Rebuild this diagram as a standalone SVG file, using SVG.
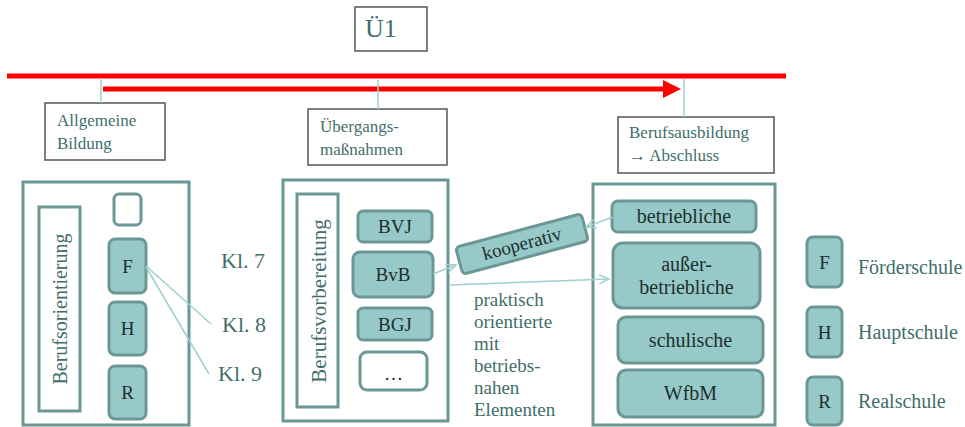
<svg xmlns="http://www.w3.org/2000/svg" width="965" height="427" viewBox="0 0 965 427" font-family="'Liberation Serif', 'DejaVu Serif', serif">
<defs>
<style>
text{font-family:'Liberation Serif','DejaVu Serif',serif;}
.lab{font-size:17px;fill:#3f6e6b;}
.prak{font-size:19px;fill:#3f6e6b;}
.leg{font-size:20px;fill:#3f6e6b;}
.kl{font-size:22px;fill:#3f6e6b;}
.box{fill:#ffffff;stroke:#555555;stroke-width:1.5;}
.panel{fill:#ffffff;stroke:#6b9795;stroke-width:3;}
.inner{fill:#ffffff;stroke:#6b9795;stroke-width:3;}
.node{fill:#96c9c8;stroke:#6b9795;stroke-width:3;}
.wnode{fill:#ffffff;stroke:#6b9795;stroke-width:3;}
.nt{font-size:19px;fill:#1e2e2e;text-anchor:middle;}
.nt2{font-size:20px;fill:#1e2e2e;text-anchor:middle;}
.con{stroke:#9fd0d0;stroke-width:1.5;fill:none;}
</style>
<marker id="open" viewBox="0 0 12 12" refX="11" refY="6" markerWidth="12" markerHeight="12" markerUnits="userSpaceOnUse" orient="auto">
<path d="M1,1.5 L11,6 L1,10.5" fill="none" stroke="#9fd0d0" stroke-width="1.5"/>
</marker>
</defs>

<g id="u1">
<rect x="355" y="7" width="72" height="44" class="box"/>
<text x="365" y="37" font-size="26" fill="#3f6e6b">Ü1</text>
</g>

<g id="timeline">
<line x1="7" y1="76" x2="786" y2="76" stroke="#ff0000" stroke-width="5"/>
<line x1="103" y1="89" x2="665" y2="89" stroke="#ff0000" stroke-width="5"/>
<polygon points="663,80 681,89 663,98" fill="#ff0000"/>
</g>

<g id="allgemeine">
<rect x="45" y="103" width="120" height="57" class="box"/>
<text x="57" y="126" class="lab">Allgemeine</text>
<text x="57" y="149" class="lab">Bildung</text>
</g>

<g id="uebergang">
<rect x="308" y="109" width="139" height="56" class="box"/>
<text x="320" y="132" class="lab">Übergangs-</text>
<text x="320" y="155" class="lab">maßnahmen</text>
</g>

<g id="ausbildung">
<rect x="618" y="117" width="156" height="56" class="box"/>
<text x="629" y="138" class="lab">Berufsausbildung</text>
<text x="629" y="161" class="lab">→ Abschluss</text>
</g>

<g id="panel-left">
<rect x="23" y="182" width="166" height="243" class="panel"/>
<rect x="39" y="207" width="41" height="204" class="inner"/>
<text transform="translate(67,309) rotate(-90)" font-size="20" fill="#3f6e6b" text-anchor="middle">Berufsorientierung</text>
<rect x="114" y="194" width="27" height="31" rx="5" class="wnode"/>
</g>
<g id="F">
<rect x="109" y="239" width="37" height="54" rx="6" class="node"/>
<text x="127.5" y="273" class="nt">F</text>
</g>
<g id="H">
<rect x="109" y="302" width="37" height="53" rx="6" class="node"/>
<text x="127.5" y="335" class="nt">H</text>
</g>
<g id="R">
<rect x="109" y="366" width="37" height="53" rx="6" class="node"/>
<text x="127.5" y="399" class="nt">R</text>
</g>

<g id="klassen">
<text x="221" y="268" class="kl">Kl. 7</text>
<text x="222" y="332" class="kl">Kl. 8</text>
<text x="218" y="381" class="kl">Kl. 9</text>
</g>

<g id="panel-middle">
<rect x="283" y="180" width="165" height="241" class="panel"/>
<rect x="297" y="194" width="41" height="213" class="inner"/>
<text transform="translate(326,301) rotate(-90)" font-size="21" fill="#3f6e6b" text-anchor="middle">Berufsvorbereitung</text>
</g>
<g id="BVJ">
<rect x="358" y="211" width="74" height="31" rx="5" class="node"/>
<text x="395" y="233" class="nt">BVJ</text>
</g>
<g id="BvB">
<rect x="353" y="252" width="80" height="45" rx="7" class="node"/>
<text x="393" y="281" class="nt">BvB</text>
</g>
<g id="BGJ">
<rect x="358" y="308" width="74" height="32" rx="5" class="node"/>
<text x="395" y="331" class="nt">BGJ</text>
</g>
<g id="dots">
<rect x="360" y="352" width="67" height="38" rx="7" class="wnode"/>
<text x="393.5" y="380" class="nt">…</text>
</g>

<g id="kooperativ">
<g transform="translate(522,244) rotate(-15)">
<rect x="-65" y="-14" width="130" height="28" rx="4" class="node"/>
<text x="0" y="6" class="nt">kooperativ</text>
</g>
</g>

<g id="praktisch">
<text x="474" y="306" class="prak">praktisch</text>
<text x="474" y="328" class="prak">orientierte</text>
<text x="474" y="350" class="prak">mit</text>
<text x="474" y="372" class="prak">betriebs-</text>
<text x="474" y="394" class="prak">nahen</text>
<text x="474" y="416" class="prak">Elementen</text>
</g>

<g id="panel-right">
<rect x="593" y="184" width="182" height="241" class="panel"/>
</g>
<g id="betriebliche">
<rect x="612" y="201" width="144" height="31" rx="6" class="node"/>
<text x="684" y="223" class="nt2">betriebliche</text>
</g>
<g id="ausserbetriebliche">
<rect x="613" y="243" width="147" height="65" rx="10" class="node"/>
<text x="686.5" y="271" class="nt2">außer-</text>
<text x="686.5" y="294" class="nt2">betriebliche</text>
</g>
<g id="schulische">
<rect x="618" y="317" width="145" height="46" rx="8" class="node"/>
<text x="690.5" y="347" class="nt2">schulische</text>
</g>
<g id="WfbM">
<rect x="618" y="370" width="145" height="47" rx="8" class="node"/>
<text x="690.5" y="400" class="nt2">WfbM</text>
</g>

<g id="legend-F">
<rect x="807" y="237" width="35" height="50" rx="6" class="node"/>
<text x="824.5" y="269" class="nt">F</text>
<text x="858" y="274" class="leg">Förderschule</text>
</g>
<g id="legend-H">
<rect x="807" y="307" width="35" height="50" rx="6" class="node"/>
<text x="824.5" y="339" class="nt">H</text>
<text x="858" y="339" class="leg">Hauptschule</text>
</g>
<g id="legend-R">
<rect x="807" y="377" width="35" height="48" rx="6" class="node"/>
<text x="824.5" y="408" class="nt">R</text>
<text x="858" y="408" class="leg">Realschule</text>
</g>

<g id="connectors">
<line x1="101" y1="78" x2="101" y2="103" class="con"/>
<line x1="378" y1="80" x2="378" y2="109" class="con"/>
<line x1="684" y1="79" x2="684" y2="117" class="con"/>
<line x1="146" y1="266" x2="211" y2="324" class="con"/>
<line x1="146" y1="267" x2="209" y2="374" class="con"/>
<line x1="433" y1="274" x2="456" y2="265" class="con" marker-end="url(#open)"/>
<line x1="450" y1="285" x2="609" y2="279" class="con" marker-end="url(#open)"/>
<line x1="613" y1="217" x2="586" y2="227" class="con" marker-end="url(#open)"/>
</g>
</svg>
